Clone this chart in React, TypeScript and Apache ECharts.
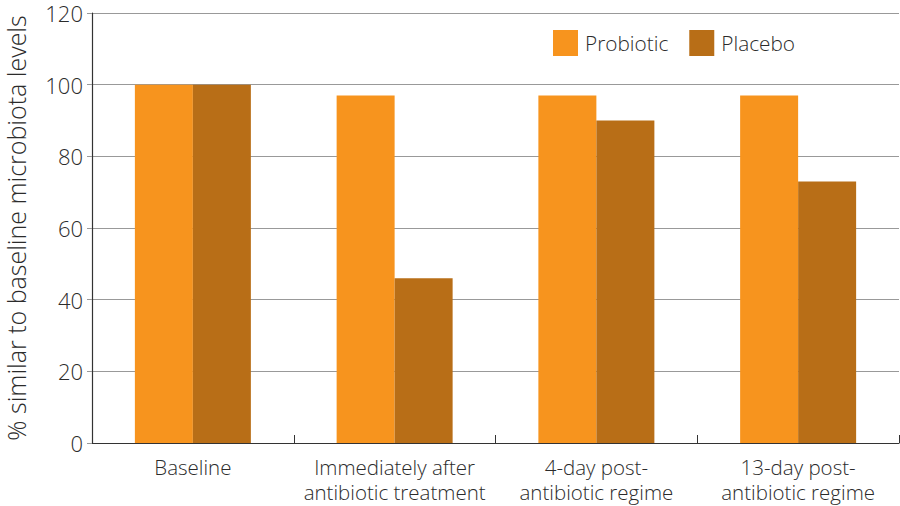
import { useEffect, useRef } from 'react'
import * as echarts from 'echarts'

const CATEGORIES = ['Baseline', 'Immediately after\nantibiotic treatment', '4-day post-\nantibiotic regime', '13-day post-\nantibiotic regime']
const PROBIOTIC = [100, 97, 97, 97]
const PLACEBO = [100, 46, 90, 73]

const FONT = "'Open Sans', sans-serif"
const TEXT = '#2b2b2b'

export default function App() {
  const ref = useRef<HTMLDivElement>(null)

  useEffect(() => {
    document.body.style.margin = '0'
    if (!ref.current) return
    const chart = echarts.init(ref.current, null, { renderer: 'svg' })

    chart.setOption({
      animation: false,
      backgroundColor: '#fff',
      textStyle: { fontFamily: FONT, fontWeight: 300 },
      grid: { left: 92, right: 1, top: 13, bottom: 63, outerBoundsMode: 'none', containLabel: false },
      legend: {
        left: 553,
        top: 30,
        padding: 0,
        itemWidth: 25,
        itemHeight: 26,
        itemGap: 21,
        icon: 'rect',
        textStyle: { color: TEXT, fontSize: 20.8, fontWeight: 300, fontFamily: FONT, padding: [0, 0, 0, 2] },
        data: ['Probiotic', 'Placebo'],
      },
      xAxis: {
        type: 'category',
        data: CATEGORIES,
        axisLine: { lineStyle: { color: '#333', width: 1.2 } },
        axisTick: { show: true, inside: true, length: 8, lineStyle: { color: '#333' } },
        axisLabel: { interval: 0, color: TEXT, fontSize: 20.5, fontWeight: 300, lineHeight: 25.5, margin: 11, fontFamily: FONT },
      },
      yAxis: {
        type: 'value',
        min: 0,
        max: 120,
        interval: 20,
        name: '% similar to baseline microbiota levels',
        nameLocation: 'middle',
        nameGap: 63,
        nameTextStyle: { color: TEXT, fontSize: 25, lineHeight: 26, fontWeight: 300, fontFamily: FONT },
        axisLine: { show: true, lineStyle: { color: '#333', width: 1.2 } },
        axisTick: { show: true, length: 5, lineStyle: { color: '#999' } },
        axisLabel: { color: TEXT, fontSize: 22, lineHeight: 22, fontWeight: 300, margin: 9, fontFamily: FONT },
        splitLine: { lineStyle: { color: '#999' } },
      },
      series: [
        {
          name: 'Probiotic',
          type: 'bar',
          barWidth: 58,
          barGap: '0%',
          itemStyle: { color: '#F7941E' },
          data: PROBIOTIC,
        },
        {
          name: 'Placebo',
          type: 'bar',
          barWidth: 58,
          barGap: '0%',
          itemStyle: { color: '#B86E17' },
          data: PLACEBO,
        },
      ],
    })

    return () => chart.dispose()
  }, [])

  return <div ref={ref} style={{ width: 900, height: 506 }} />
}
